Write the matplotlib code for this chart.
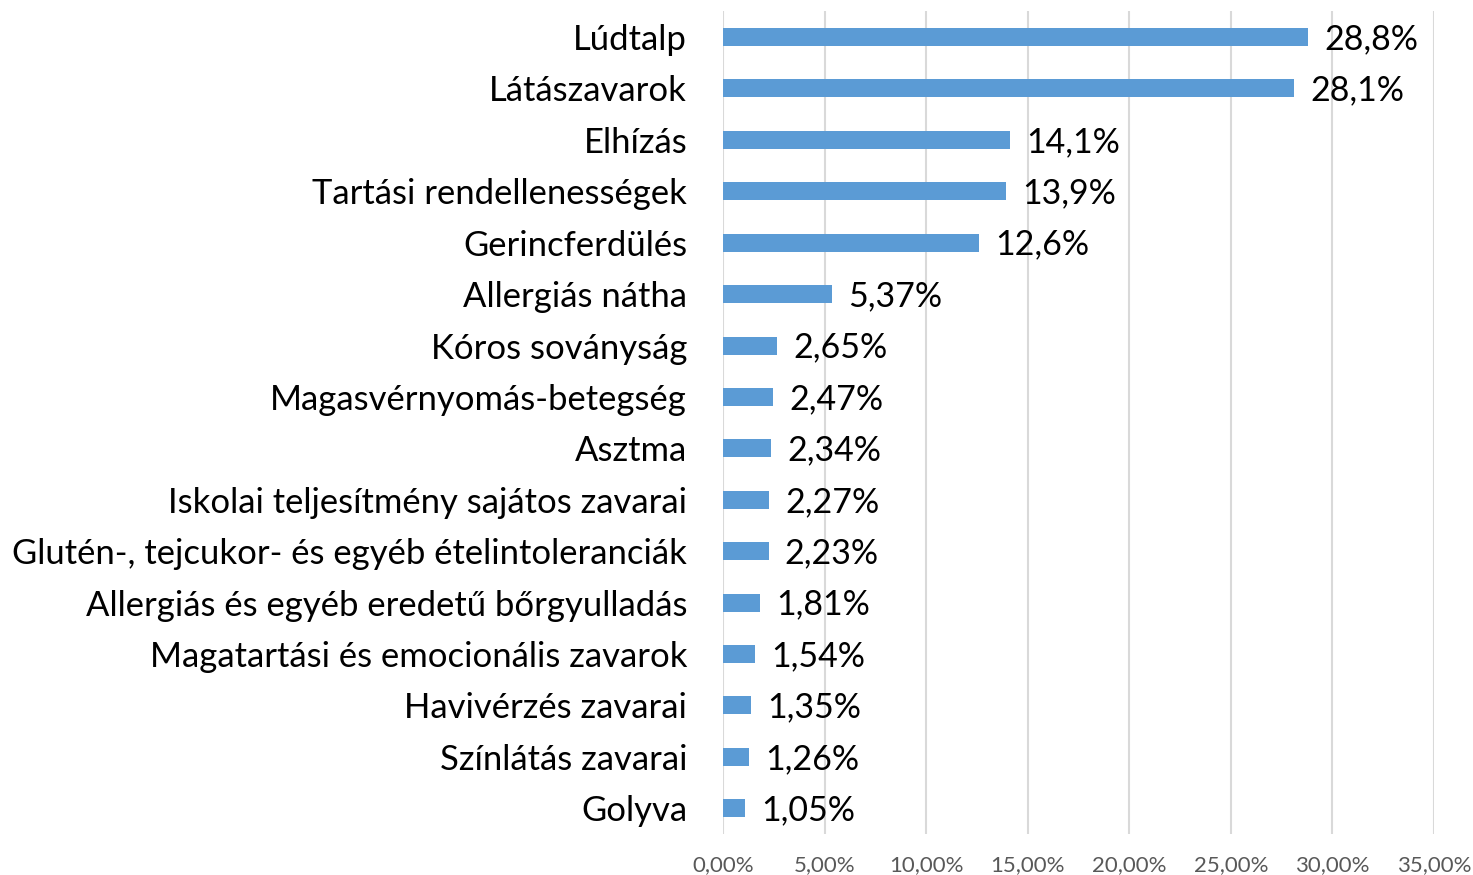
import matplotlib.pyplot as plt
from matplotlib.ticker import FuncFormatter

categories = [
    "Lúdtalp",
    "Látászavarok",
    "Elhízás",
    "Tartási rendellenességek",
    "Gerincferdülés",
    "Allergiás nátha",
    "Kóros soványság",
    "Magasvérnyomás-betegség",
    "Asztma",
    "Iskolai teljesítmény sajátos zavarai",
    "Glutén-, tejcukor- és egyéb ételintoleranciák",
    "Allergiás és egyéb eredetű bőrgyulladás",
    "Magatartási és emocionális zavarok",
    "Havivérzés zavarai",
    "Színlátás zavarai",
    "Golyva",
]
values = [28.8, 28.1, 14.1, 13.9, 12.6, 5.37, 2.65, 2.47, 2.34, 2.27, 2.23, 1.81, 1.54, 1.35, 1.26, 1.05]
value_labels = ["28,8%", "28,1%", "14,1%", "13,9%", "12,6%", "5,37%", "2,65%", "2,47%",
                "2,34%", "2,27%", "2,23%", "1,81%", "1,54%", "1,35%", "1,26%", "1,05%"]
x_ticks = [0, 5, 10, 15, 20, 25, 30, 35]

plt.rcParams['font.family'] = ['Lato', 'DejaVu Sans']

fig = plt.figure(figsize=(14.73, 8.75), dpi=100)
ax = fig.add_axes([0.491, 0.047, 0.4825, 0.94])

y = list(range(len(categories)))
ax.barh(y, values, height=0.35, color="#5b9bd5", zorder=3)
for yi, v, lab in zip(y, values, value_labels):
    ax.text(v + 0.8, yi + 0.04, lab, va="center", ha="left", fontsize=24.5, color="black")

ax.set_yticks(y)
ax.set_yticklabels(categories, fontsize=24.9)
ax.set_ylim(len(categories) - 0.5, -0.5)
ax.set_xlim(0, 35)
ax.set_xticks(x_ticks)
ax.xaxis.set_major_formatter(FuncFormatter(lambda v, p: f"{v:.2f}%".replace(".", ",")))
ax.tick_params(axis="x", labelsize=16, labelcolor="#595959", length=0, pad=15)
ax.tick_params(axis="y", length=0, pad=26)
ax.grid(axis="x", color="#d9d9d9", linewidth=1.5, zorder=0)
for s in ax.spines.values():
    s.set_visible(False)

fig.savefig("out.png", dpi=100)
